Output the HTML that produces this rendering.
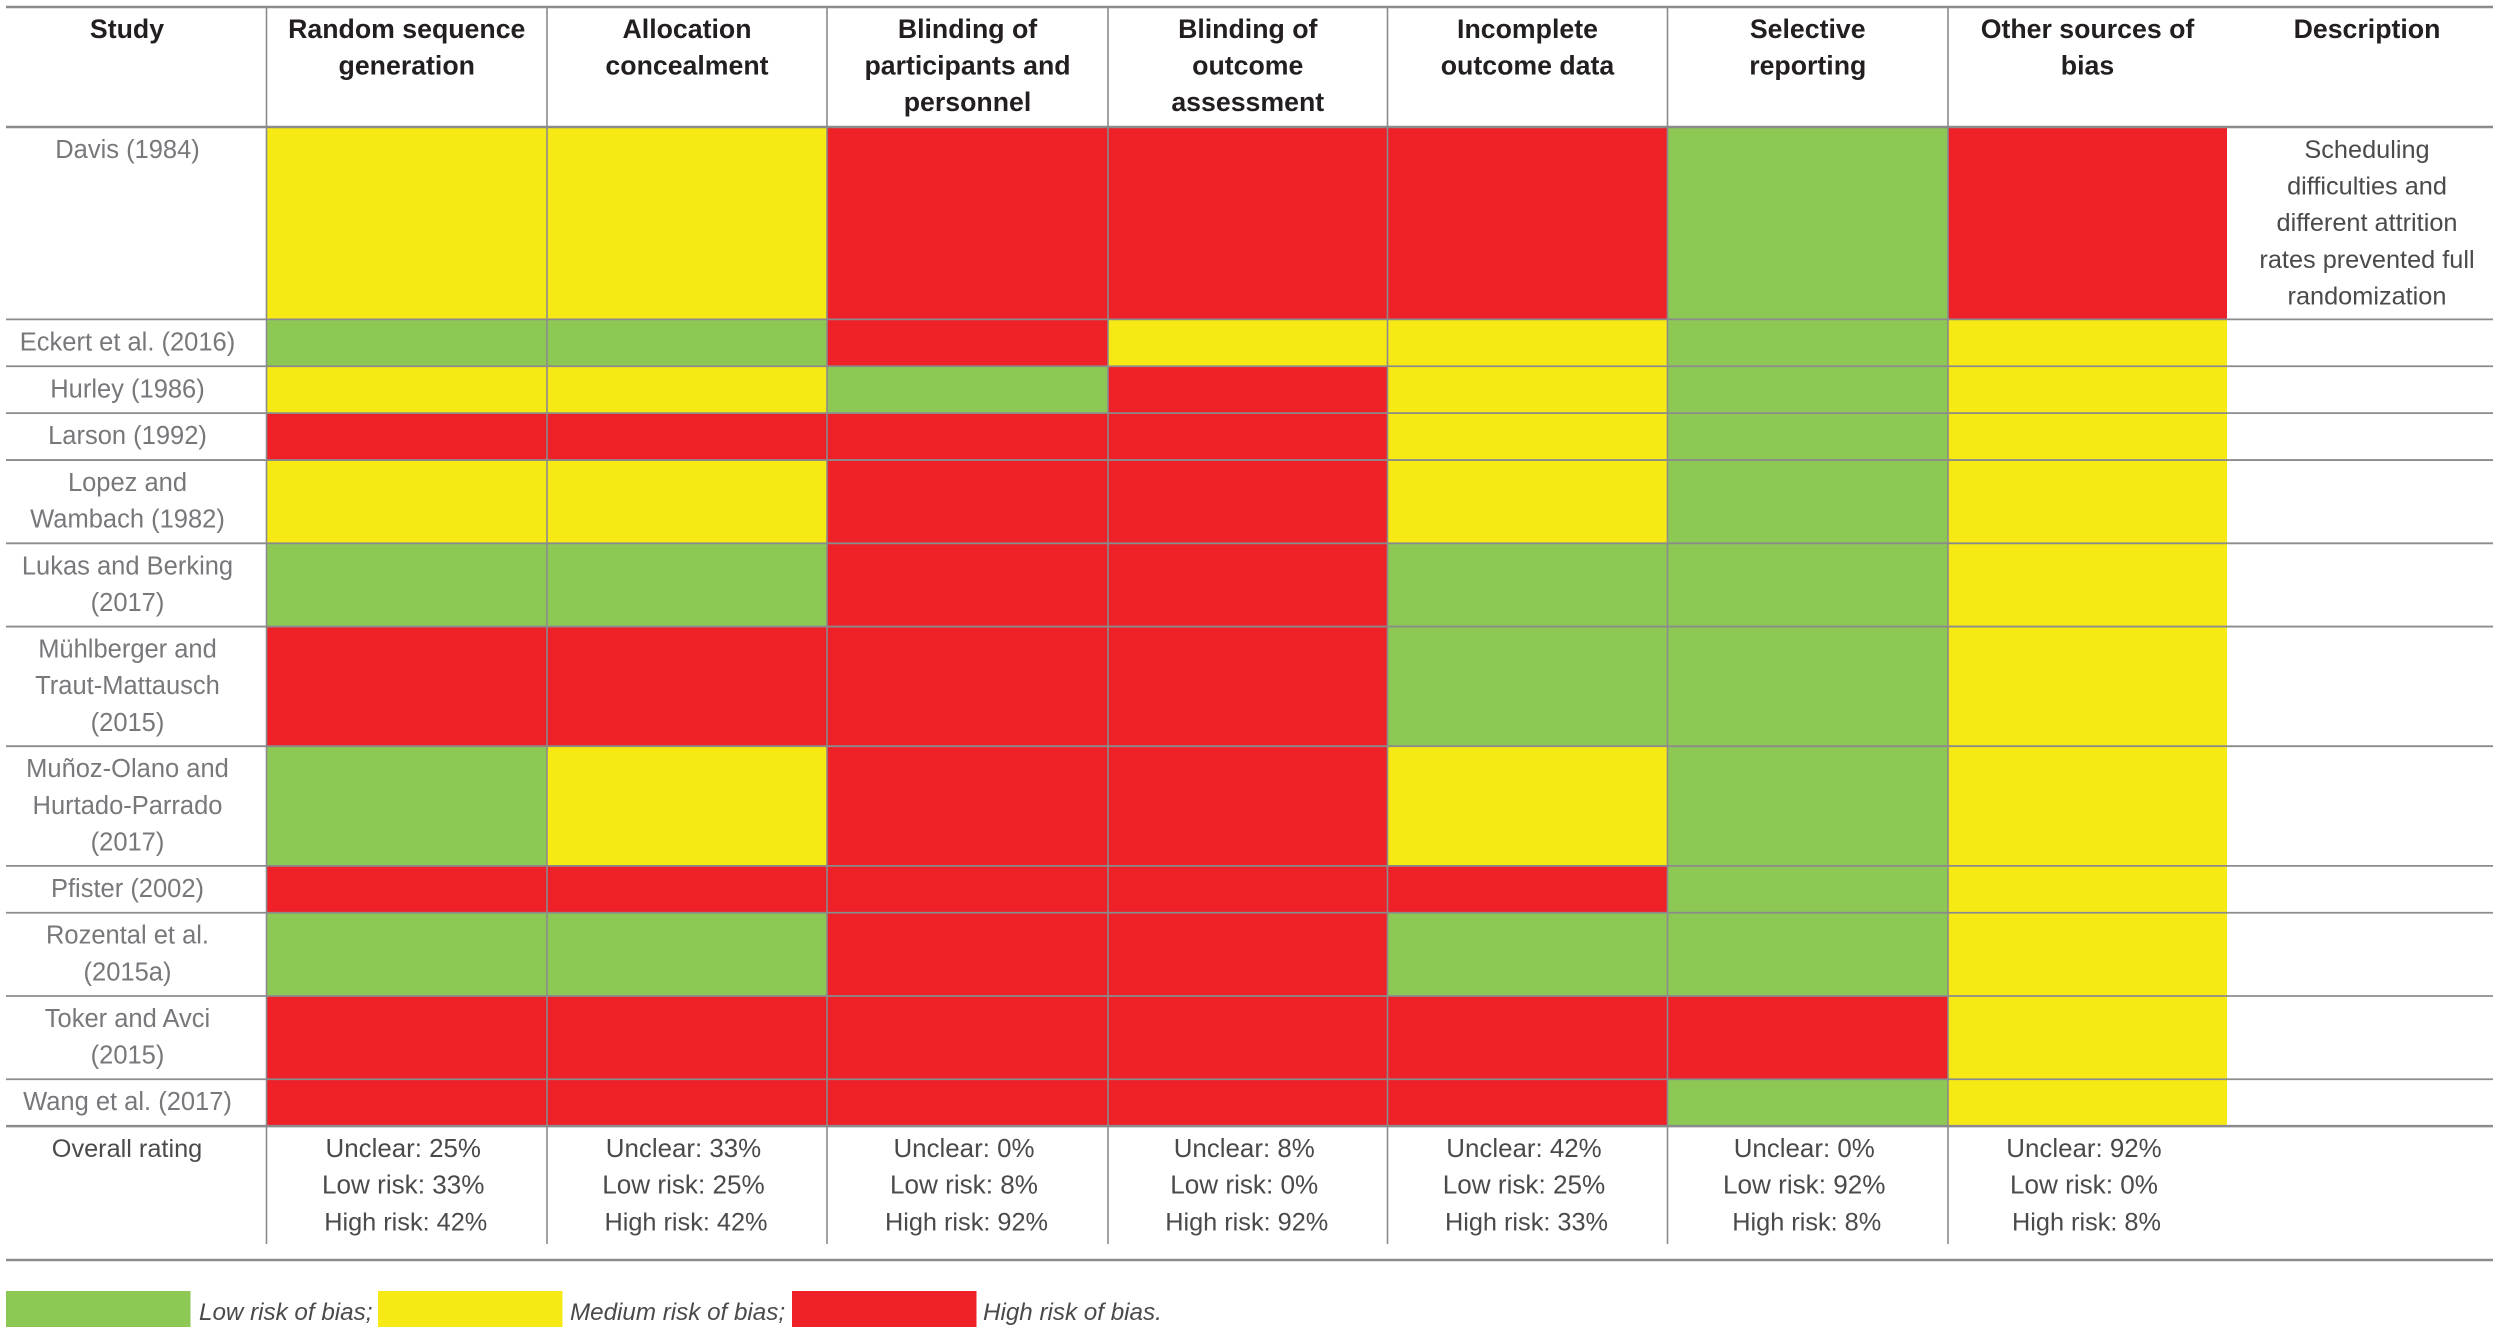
<!DOCTYPE html>
<html lang="en">
<head>
<meta charset="utf-8">
<title>Risk of bias summary</title>
<style>
html,body{margin:0;padding:0;background:#fff;width:2500px;height:1333px;overflow:hidden}
svg{display:block}
text{font-family:"Liberation Sans",sans-serif}
</style>
</head>
<body>
<svg id="chart" xmlns="http://www.w3.org/2000/svg" width="2500" height="1333" viewBox="0 0 2500 1333"></svg>
<script>
const columnHeaders = [
  ["Study"],
  ["Random sequence", "generation"],
  ["Allocation", "concealment"],
  ["Blinding of", "participants and", "personnel"],
  ["Blinding of", "outcome", "assessment"],
  ["Incomplete", "outcome data"],
  ["Selective", "reporting"],
  ["Other sources of", "bias"],
  ["Description"]
];
const studies = [
  ["Davis (1984)"],
  ["Eckert et al. (2016)"],
  ["Hurley (1986)"],
  ["Larson (1992)"],
  ["Lopez and", "Wambach (1982)"],
  ["Lukas and Berking", "(2017)"],
  ["Mühlberger and", "Traut-Mattausch", "(2015)"],
  ["Muñoz-Olano and", "Hurtado-Parrado", "(2017)"],
  ["Pfister (2002)"],
  ["Rozental et al.", "(2015a)"],
  ["Toker and Avci", "(2015)"],
  ["Wang et al. (2017)"]
];
const ratings = [
  ["medium","medium","high","high","high","low","high"],
  ["low","low","high","medium","medium","low","medium"],
  ["medium","medium","low","high","medium","low","medium"],
  ["high","high","high","high","medium","low","medium"],
  ["medium","medium","high","high","medium","low","medium"],
  ["low","low","high","high","low","low","medium"],
  ["high","high","high","high","low","low","medium"],
  ["low","medium","high","high","medium","low","medium"],
  ["high","high","high","high","high","low","medium"],
  ["low","low","high","high","low","low","medium"],
  ["high","high","high","high","high","high","medium"],
  ["high","high","high","high","high","low","medium"]
];
const descriptions = [
  ["Scheduling", "difficulties and", "different attrition", "rates prevented full", "randomization"],
  [], [], [], [], [], [], [], [], [], [], []
];
const overallUnclear = [25, 33, 0, 8, 42, 0, 92];
const overallLow = [33, 25, 8, 0, 25, 92, 0];
const overallHigh = [42, 42, 92, 92, 33, 8, 8];
const legendLabels = ["Low risk of bias;", "Medium risk of bias;", "High risk of bias."];

const NS = "http://www.w3.org/2000/svg";
const svg = document.getElementById("chart");
const FILL = { low: "#8dc855", medium: "#f7e914", high: "#ee2028" };
const GRID = "#8b8b8b";
const colEdges = [6, 266.5, 547, 827, 1108, 1387.5, 1667.5, 1948, 2227, 2493];
const LINE = 36.6;
const headerTop = 7;
const headerBottom = 127;
const overallBottom = 1244;
const footerLine = 1260;

function colX(i) { return colEdges[i + 1]; }
function colCenter(i) { return (colEdges[i + 1] + colEdges[i + 2]) / 2; }
function rowLines(r) { return Math.max(studies[r].length, descriptions[r].length); }
function rowHeight(lineCount) { return 10.5 + 36.38 * lineCount; }

function rect(x, y, w, h, fill, name) {
  const el = document.createElementNS(NS, "rect");
  el.setAttribute("x", x);
  el.setAttribute("y", y);
  el.setAttribute("width", w);
  el.setAttribute("height", h);
  el.setAttribute("fill", fill);
  
  
  svg.appendChild(el);
  return el;
}
function line(x1, y1, x2, y2, sw, name) {
  const el = document.createElementNS(NS, "line");
  el.setAttribute("x1", x1);
  el.setAttribute("y1", y1);
  el.setAttribute("x2", x2);
  el.setAttribute("y2", y2);
  el.setAttribute("stroke", GRID);
  el.setAttribute("stroke-width", sw);
  
  
  svg.appendChild(el);
  return el;
}
function label(str, x, y, opts, name) {
  const el = document.createElementNS(NS, "text");
  el.setAttribute("x", x);
  el.setAttribute("y", y);
  el.setAttribute("font-size", opts.size);
  el.setAttribute("fill", opts.color);
  el.setAttribute("text-anchor", opts.anchor || "middle");
  if (opts.weight) el.setAttribute("font-weight", opts.weight);
  if (opts.italic) el.setAttribute("font-style", "italic");
  
  
  el.textContent = str;
  svg.appendChild(el);
  return el;
}

const rowTops = [];
let cursor = headerBottom;
studies.forEach(function (s, r) {
  rowTops.push(cursor);
  cursor += rowHeight(rowLines(r));
});
const tableBottom = cursor;

/* rating cells */
ratings.forEach(function (row, r) {
  row.forEach(function (value, c) {
    rect(colX(c), rowTops[r], colEdges[c + 2] - colEdges[c + 1], rowHeight(rowLines(r)), FILL[value], "rating-cell-" + r + "-" + c);
  });
});

/* vertical grid lines */
for (let c = 0; c < 7; c++) {
  line(colX(c), headerTop, colX(c), overallBottom, 1.6, "column-divider-" + c);
}

/* horizontal grid lines */
line(colEdges[0], headerTop, colEdges[9], headerTop, 2.4, "table-top-rule");
line(colEdges[0], headerBottom, colEdges[9], headerBottom, 2.4, "header-bottom-rule");
rowTops.slice(1).forEach(function (y, i) {
  line(colEdges[0], y, colEdges[9], y, 1.8, "row-rule-" + i);
});
line(colEdges[0], tableBottom, colEdges[9], tableBottom, 2.4, "table-bottom-rule");
line(colEdges[0], footerLine, colEdges[9], footerLine, 2.4, "footer-rule");

/* header text */
const headerCenters = [127, colCenter(0), colCenter(1), colCenter(2), colCenter(3), colCenter(4), colCenter(5), colCenter(6), 2367];
columnHeaders.forEach(function (lines, c) {
  lines.forEach(function (t, i) {
    label(t, headerCenters[c], 38 + i * LINE, { size: 26.7, color: "#231f20", weight: "bold" }, "column-header-" + c + "-line-" + i);
  });
});

/* study labels */
studies.forEach(function (lines, r) {
  lines.forEach(function (t, i) {
    label(t, 127.5, rowTops[r] + 31 + i * LINE, { size: 25.5, color: "#77787b" }, "study-label-" + r + "-line-" + i);
  });
});

/* descriptions */
descriptions.forEach(function (lines, r) {
  lines.forEach(function (t, i) {
    label(t, 2367, rowTops[r] + 31 + i * LINE, { size: 25.3, color: "#4a4a4a" }, "description-" + r + "-line-" + i);
  });
});

/* overall rating row */
label("Overall rating", 127, tableBottom + 31, { size: 25.3, color: "#4a4a4a" }, "overall-rating-label");
overallUnclear.forEach(function (v, c) {
  label("Unclear: " + v + "%", colCenter(c) - 3.5, tableBottom + 31, { size: 25.9, color: "#4a4a4a" }, "overall-unclear-" + c);
});
overallLow.forEach(function (v, c) {
  label("Low risk: " + v + "%", colCenter(c) - 3.5, tableBottom + 31 + LINE, { size: 26.1, color: "#4a4a4a" }, "overall-low-" + c);
});
overallHigh.forEach(function (v, c) {
  label("High risk: " + v + "%", colCenter(c) - 1, tableBottom + 31 + 2 * LINE, { size: 25.3, color: "#4a4a4a" }, "overall-high-" + c);
});

/* legend */
const legendKeys = ["low", "medium", "high"];
const legendSwatchX = [6, 378, 792];
const legendTextX = [199, 570, 983];
legendKeys.forEach(function (k, i) {
  rect(legendSwatchX[i], 1291, 184.5, 36, FILL[k], "legend-swatch-" + k);
  label(legendLabels[i], legendTextX[i], 1320, { size: 24.2, color: "#4a4a4a", italic: true, anchor: "start" }, "legend-label-" + k);
});
</script>
</body>
</html>
